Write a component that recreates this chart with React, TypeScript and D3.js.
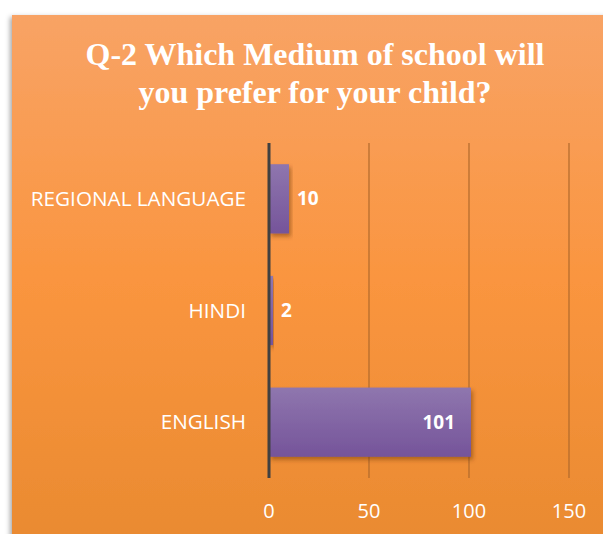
import React from 'react';
import * as d3 from 'd3';

const categories = ['REGIONAL LANGUAGE', 'HINDI', 'ENGLISH'];
const values = [10, 2, 101];
const tickValues = [0, 50, 100, 150];
const titleLines = ['Q-2 Which Medium of school will', 'you prefer for your child?'];

const App = () => {
  const svgRef = React.useRef(null);

  const W = 603;
  const H = 534;
  const plot = { left: 269, right: 569, top: 143, bottom: 478 };
  const sans = "'Open Sans', 'Noto Sans', sans-serif";

  React.useEffect(() => {
    const svg = d3.select(svgRef.current);
    svg.selectAll('*').remove();

    const defs = svg.append('defs');
    const bg = defs.append('linearGradient').attr('id', 'bgGrad')
      .attr('x1', 0).attr('y1', 0).attr('x2', 0).attr('y2', 1);
    bg.append('stop').attr('offset', '0%').attr('stop-color', '#f8a365');
    bg.append('stop').attr('offset', '50%').attr('stop-color', '#fa953f');
    bg.append('stop').attr('offset', '100%').attr('stop-color', '#e98a30');

    const barGrad = defs.append('linearGradient').attr('id', 'barGrad')
      .attr('x1', 0).attr('y1', 0).attr('x2', 0).attr('y2', 1);
    barGrad.append('stop').attr('offset', '0%').attr('stop-color', '#8f76ae');
    barGrad.append('stop').attr('offset', '100%').attr('stop-color', '#75549a');

    const panelShadow = defs.append('filter').attr('id', 'panelShadow')
      .attr('x', '-10%').attr('y', '-10%').attr('width', '120%').attr('height', '120%');
    panelShadow.append('feDropShadow').attr('dx', -2).attr('dy', 2)
      .attr('stdDeviation', 2.5).attr('flood-color', '#000').attr('flood-opacity', 0.35);

    const barShadow = defs.append('filter').attr('id', 'barShadow')
      .attr('x', '-10%').attr('y', '-20%').attr('width', '130%').attr('height', '150%');
    barShadow.append('feDropShadow').attr('dx', 2).attr('dy', 3)
      .attr('stdDeviation', 2).attr('flood-color', '#5a2a00').attr('flood-opacity', 0.45);

    // panel
    svg.append('rect')
      .attr('x', 12).attr('y', 15)
      .attr('width', W).attr('height', H)
      .attr('fill', 'url(#bgGrad)')
      .attr('filter', 'url(#panelShadow)');

    // title
    svg.append('g')
      .selectAll('text')
      .data(titleLines)
      .enter()
        .append('text')
        .attr('x', 315)
        .attr('y', (d, i) => 65 + i * 38)
        .attr('text-anchor', 'middle')
        .attr('fill', '#fff')
        .attr('font-family', 'Liberation Serif')
        .attr('font-weight', 'bold')
        .attr('font-size', 32)
        .text((d) => d);

    const x = d3.scaleLinear()
      .domain([0, 150])
      .range([plot.left, plot.right]);

    const y = d3.scaleBand()
      .domain(categories)
      .range([plot.top, plot.bottom])
      .paddingInner(0.38)
      .paddingOuter(0.19);

    // gridlines
    svg.append('g')
      .selectAll('line')
      .data(tickValues.filter((t) => t > 0))
      .enter()
        .append('line')
        .attr('x1', (d) => x(d)).attr('x2', (d) => x(d))
        .attr('y1', plot.top).attr('y2', plot.bottom)
        .attr('stroke', '#b06a2c')
        .attr('stroke-width', 1.2);

    // tick labels
    svg.append('g')
      .selectAll('text')
      .data(tickValues)
      .enter()
        .append('text')
        .attr('x', (d) => x(d))
        .attr('y', 518)
        .attr('text-anchor', 'middle')
        .attr('fill', '#fff')
        .attr('font-family', sans)
        .attr('font-size', 20)
        .text((d) => d);

    // bars
    svg.append('g')
      .selectAll('rect')
      .data(values)
      .enter()
        .append('rect')
        .attr('x', x(0))
        .attr('y', (d, i) => y(categories[i]))
        .attr('width', (d) => x(d) - x(0))
        .attr('height', y.bandwidth())
        .attr('fill', 'url(#barGrad)')
        .attr('filter', 'url(#barShadow)');

    // axis line
    svg.append('line')
      .attr('x1', x(0)).attr('x2', x(0))
      .attr('y1', plot.top).attr('y2', plot.bottom)
      .attr('stroke', '#404040')
      .attr('stroke-width', 3);

    // category labels
    svg.append('g')
      .selectAll('text')
      .data(categories)
      .enter()
        .append('text')
        .attr('x', 246)
        .attr('y', (d) => y(d) + y.bandwidth() / 2)
        .attr('dy', '0.35em')
        .attr('text-anchor', 'end')
        .attr('fill', '#fff')
        .attr('font-family', sans)
        .attr('font-size', 20.7)
        .text((d) => d);

    // value labels
    svg.append('g')
      .selectAll('text')
      .data(values)
      .enter()
        .append('text')
        .attr('x', (d) => d > 20 ? x(d) - 16 : x(d) + 8)
        .attr('y', (d, i) => y(categories[i]) + y.bandwidth() / 2)
        .attr('dy', '0.35em')
        .attr('text-anchor', (d) => d > 20 ? 'end' : 'start')
        .attr('fill', '#fff')
        .attr('font-family', sans)
        .attr('font-weight', 'bold')
        .attr('font-size', 19)
        .text((d) => d);
  }, []);

  return (
    <svg
      ref={svgRef}
      width={W}
      height={H}
      style={{ position: 'absolute', left: 0, top: 0, display: 'block' }}
    />
  );
};

export default App;
